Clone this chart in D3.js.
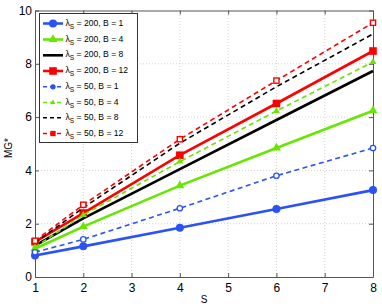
<!DOCTYPE html>
<html><head><meta charset="utf-8">
<script src="https://cdn.jsdelivr.net/npm/d3@7"></script>
<style>body{margin:0;background:#fff}svg{display:block;font-family:"Liberation Sans",Arial,sans-serif}</style>
</head><body><svg id="c" width="382" height="308"></svg>
<script>
const xValues = [1, 2, 4, 6, 8];
const xTicks = [1, 2, 3, 4, 5, 6, 7, 8];
const yTicks = [0, 2, 4, 6, 8, 10];
const seriesLambda = [200, 200, 200, 200, 50, 50, 50, 50];
const seriesB = [1, 4, 8, 12, 1, 4, 8, 12];
const s200B1 = [0.81, 1.15, 1.85, 2.55, 3.26];
const s200B4 = [1.06, 1.89, 3.43, 4.84, 6.24];
const s200B8 = [1.18, 2.2, 4.05, 5.89, 7.73];
const s200B12 = [1.32, 2.4, 4.57, 6.51, 8.48];
const s50B1 = [0.93, 1.41, 2.58, 3.8, 4.84];
const s50B4 = [1.12, 2.33, 4.33, 6.23, 8.07];
const s50B8 = [1.28, 2.6, 5.02, 7.14, 9.12];
const s50B12 = [1.36, 2.71, 5.17, 7.37, 9.54];
const allSeries = [s200B1, s200B4, s200B8, s200B12, s50B1, s50B4, s50B8, s50B12];
const colors = ["#2a52f5", "#66e600", "#000000", "#ff0000", "#2a52f5", "#66e600", "#000000", "#ff0000"];
const dashed = [false, false, false, false, true, true, true, true];
const markers = ["circle", "triangle", "none", "square", "ocircle", "triangle", "none", "osquare"];

const svg = d3.select("#c");
const m = {l: 35, r: 9, t: 10.5, b: 31};
const W = 382, H = 308;
const x = d3.scaleLinear().domain([1, 8]).range([m.l, W - m.r]);
const y = d3.scaleLinear().domain([0, 10]).range([H - m.b, m.t]);

// grid
const g = svg.append("g");
g.selectAll(".gx").data(xTicks.slice(1, -1)).enter().append("line")
  .attr("x1", d => x(d)).attr("x2", d => x(d)).attr("y1", y(0)).attr("y2", y(10))
  .attr("stroke", "#c8c8c8").attr("stroke-width", 0.8).attr("stroke-dasharray", "1,2");
g.selectAll(".gy").data(yTicks.slice(1, -1)).enter().append("line")
  .attr("y1", d => y(d)).attr("y2", d => y(d)).attr("x1", x(1)).attr("x2", x(8))
  .attr("stroke", "#c8c8c8").attr("stroke-width", 0.8).attr("stroke-dasharray", "1,2");

// axes
const xa = svg.append("g").attr("transform", `translate(0,${y(0)})`)
  .call(d3.axisBottom(x).tickValues(xTicks).tickSizeInner(-4).tickSizeOuter(0).tickPadding(6).tickFormat(d3.format("d")));
const ya = svg.append("g").attr("transform", `translate(${x(1)},0)`)
  .call(d3.axisLeft(y).tickValues(yTicks).tickSizeInner(-4).tickSizeOuter(0).tickPadding(3).tickFormat(d3.format("d")));
const xt = svg.append("g").attr("transform", `translate(0,${y(10)})`)
  .call(d3.axisTop(x).tickValues(xTicks).tickSizeInner(-4).tickSizeOuter(0).tickFormat(""));
const yr = svg.append("g").attr("transform", `translate(${x(8)},0)`)
  .call(d3.axisRight(y).tickValues(yTicks).tickSizeInner(-4).tickSizeOuter(0).tickFormat(""));
[xa, ya, xt, yr].forEach(a => {
  a.select(".domain").attr("stroke", "#555").attr("stroke-width", 1);
  a.selectAll(".tick line").attr("stroke", "#555");
  a.selectAll("text").attr("font-size", 12).attr("fill", "#000").attr("font-family", "Liberation Sans, Arial, sans-serif");
});

svg.append("text").attr("x", 204).attr("y", 303).attr("text-anchor", "middle").attr("font-size", 10).text("S");
svg.append("text").attr("transform", "translate(12,148) rotate(-90)").attr("text-anchor", "middle").attr("font-size", 10).text("MG*");

let dashedTri = false;
function drawMarker(sel, type, col, cx, cy, s) {
  if (type === "circle") sel.append("circle").attr("cx", cx).attr("cy", cy).attr("r", 4 * s).attr("fill", col);
  else if (type === "ocircle") sel.append("circle").attr("cx", cx).attr("cy", cy).attr("r", 2.7 * s).attr("fill", s < 1 ? col : "#fff").attr("stroke", col).attr("stroke-width", 1.3);
  else if (type === "square") sel.append("rect").attr("x", cx - 3.8 * s).attr("y", cy - 3.8 * s).attr("width", 7.6 * s).attr("height", 7.6 * s).attr("fill", col);
  else if (type === "osquare") sel.append("rect").attr("x", cx - 2.6 * s).attr("y", cy - 2.6 * s).attr("width", 5.2 * s).attr("height", 5.2 * s).attr("fill", s < 1 ? col : "#fff").attr("stroke", col).attr("stroke-width", 1.4);
  else if (type === "triangle") {
    const r = (dashedTri ? 4 : 5.2) * s;
    sel.append("path").attr("d", d3.symbol(d3.symbolTriangle, r * r * 1.3)()).attr("transform", `translate(${cx},${cy})`).attr("fill", col);
  }
}

const line = d3.line().x((d, i) => x(xValues[i])).y(d => y(d));
allSeries.forEach((s, k) => {
  const gg = svg.append("g");
  gg.append("path").datum(s).attr("d", line).attr("fill", "none").attr("stroke", colors[k])
    .attr("stroke-width", dashed[k] ? 1.6 : 2.6).attr("stroke-dasharray", dashed[k] ? "5,3.5" : null);
  dashedTri = dashed[k];
  s.forEach((v, i) => drawMarker(gg, markers[k], colors[k], x(xValues[i]), y(v), 1));
});

// legend
const lg = svg.append("g");
lg.append("rect").attr("x", 39.5).attr("y", 13.5).attr("width", 98).attr("height", 129).attr("fill", "#fff").attr("stroke", "#333").attr("stroke-width", 1);
const rowY = [23.5, 39.5, 55.3, 71, 86.8, 102.5, 117.8, 133.5];
seriesLambda.forEach((lam, k) => {
  const yy = rowY[k];
  lg.append("line").attr("x1", 43).attr("x2", 63).attr("y1", yy).attr("y2", yy).attr("stroke", colors[k])
    .attr("stroke-width", dashed[k] ? 1.6 : 2.6).attr("stroke-dasharray", dashed[k] ? "4,3" : null);
  dashedTri = dashed[k];
  drawMarker(lg, markers[k], colors[k], 53, yy, dashed[k] ? 0.75 : 1);
  const t = lg.append("text").attr("x", 65.5).attr("y", yy + 2).attr("font-size", 8.6);
  t.append("tspan").text("λ");
  t.append("tspan").attr("font-size", 6.5).attr("dy", 3).text("S");
  t.append("tspan").attr("dy", -3).text(` = ${lam}, B = ${seriesB[k]}`);
});
</script></body></html>
